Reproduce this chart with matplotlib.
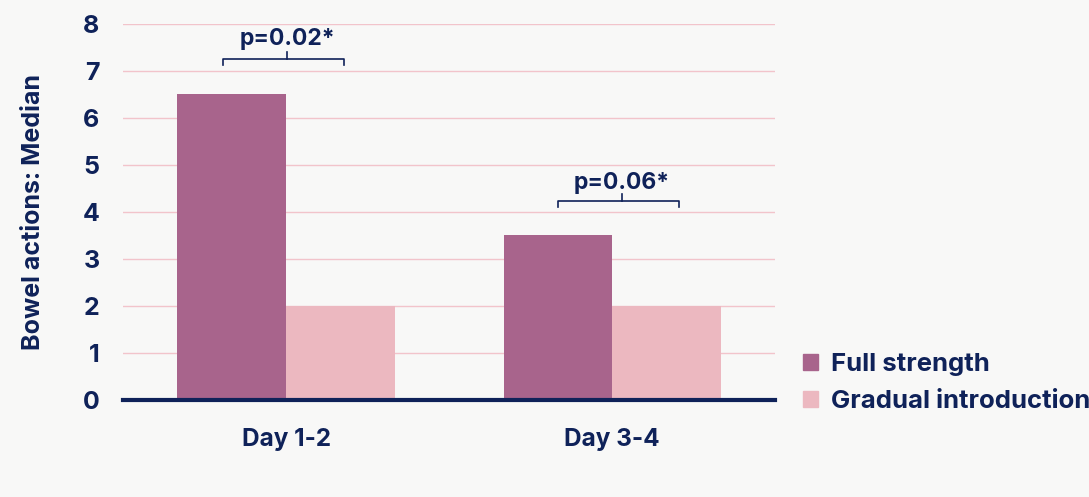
import matplotlib
matplotlib.use("Agg")
import matplotlib.pyplot as plt
from matplotlib.patches import Patch

categories = ["Day 1-2", "Day 3-4"]
full_strength = [6.5, 3.5]
gradual = [2, 2]
series_names = ["Full strength", "Gradual introduction"]
p_labels = ["p=0.02*", "p=0.06*"]
yticks = [0, 1, 2, 3, 4, 5, 6, 7, 8]

NAVY = "#0F2259"
C_FULL = "#A8648C"
C_GRAD = "#ECB8C0"
GRID = "#F2C4CB"
BG = "#F8F8F7"

plt.rcParams['font.family'] = ['Inter', 'DejaVu Sans']

fig = plt.figure(figsize=(10.89, 4.97), dpi=100, facecolor=BG)
ax = fig.add_axes([0.113, 0.195, 0.599, 0.757])
ax.set_facecolor(BG)

w = 1/3
x = list(range(len(categories)))
ax.bar([i - w/2 for i in x], full_strength, width=w, color=C_FULL, zorder=3, label=series_names[0])
ax.bar([i + w/2 for i in x], gradual, width=w, color=C_GRAD, zorder=3, label=series_names[1])

ax.set_xlim(-0.5, 1.5)
ax.set_ylim(0, 8)
ax.set_yticks(yticks)
ax.set_yticklabels([str(t) for t in yticks], fontsize=18, fontweight='bold', color=NAVY)
ax.set_xticks(x)
ax.set_xticklabels(categories, fontsize=17.5, fontweight='bold', color=NAVY)
ax.tick_params(axis='y', length=0, pad=17)
ax.tick_params(axis='x', length=0, pad=20)
ax.yaxis.grid(True, color=GRID, linewidth=1, zorder=0)
for s in ['top', 'right', 'left']:
    ax.spines[s].set_visible(False)
ax.spines['bottom'].set_color(NAVY)
ax.spines['bottom'].set_linewidth(3)
ax.spines['bottom'].set_zorder(4)

ax.set_ylabel("Bowel actions: Median", fontsize=18, fontweight='bold', color=NAVY, labelpad=27)

# significance brackets (offsets relative to group centre)
brackets = [
    (-0.195, 0.177, 7.25, 0.003, 7.40, 7.68),
    (-0.165, 0.205, 4.23, 0.030, 4.38, 4.62),
]
for i, ((x0, x1, yb, xc, ytop, ytxt), lab) in enumerate(zip(brackets, p_labels)):
    ax.plot([i + x0, i + x0, i + x1, i + x1], [yb - 0.12, yb, yb, yb - 0.12], color=NAVY, lw=1.2, zorder=5, clip_on=False)
    ax.plot([i + xc, i + xc], [yb, ytop], color=NAVY, lw=1.2, zorder=5, clip_on=False)
    ax.text(i + xc, ytxt, lab, ha='center', va='center', fontsize=16.5, fontweight='bold', color=NAVY)

handles = [Patch(color=C_FULL), Patch(color=C_GRAD)]
leg = fig.legend(handles, series_names, loc='upper left', bbox_to_anchor=(0.737, 0.290),
                 frameon=False, borderpad=0, borderaxespad=0,
                 handlelength=0.6, handleheight=0.6, handletextpad=0.5,
                 labelspacing=0.55, prop={'size': 18.5, 'weight': 'bold'})
for t in leg.get_texts():
    t.set_color(NAVY)

fig.savefig("out.png", dpi=100, facecolor=BG)
